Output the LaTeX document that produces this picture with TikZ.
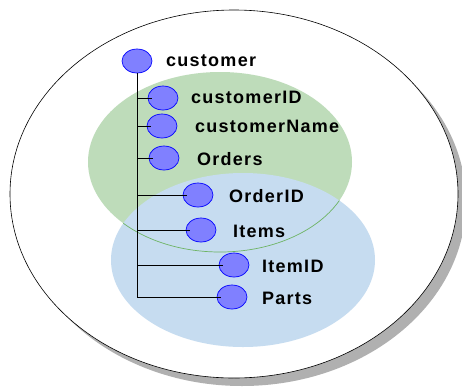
\documentclass[tikz,border=0pt]{standalone}
\usepackage{fontspec}
\setmainfont{Liberation Sans}
\usetikzlibrary{shapes.geometric}
\definecolor{grnfill}{RGB}{190,220,186}
\definecolor{grnline}{RGB}{110,180,100}
\definecolor{blufill}{RGB}{198,220,240}
\definecolor{shadowgray}{RGB}{176,176,176}
\definecolor{elemfill}{RGB}{128,128,255}

\begin{document}
\begin{tikzpicture}[x=1pt,y=-1pt,
    elem/.style={draw=blue, fill=elemfill, ellipse, minimum width=30pt, minimum height=24pt, inner sep=0pt, line width=0.7pt},
    tag/.style={anchor=west, inner sep=0pt, font=\fontsize{18}{20}\selectfont\bfseries\addfontfeatures{LetterSpace=7}},
    branch/.style={draw=black, line width=0.8pt}]
    \useasboundingbox (0,0) rectangle (462,388);
    % sets
    \fill[shadowgray] (242,202) ellipse [x radius=224pt, y radius=184pt];
    \draw[fill=white, line width=0.6pt] (234,194) ellipse [x radius=224pt, y radius=184pt];
    \fill[grnfill] (220,162) ellipse [x radius=132pt, y radius=90pt];
    \fill[blufill] (243,260) ellipse [x radius=132pt, y radius=87pt];
    \begin{scope}
        \clip (243,260) ellipse [x radius=132pt, y radius=87pt];
        \draw[grnline, line width=0.7pt] (220,162) ellipse [x radius=132pt, y radius=90pt];
    \end{scope}
    % elements
    \node[elem] (customer) at (137,61) {};
    \node[elem] (cid) at (163,98) {};
    \node[elem] (cname) at (162,126) {};
    \node[elem] (orders) at (164,158) {};
    \node[elem] (oid) at (198,195) {};
    \node[elem] (items) at (201,230) {};
    \node[elem] (iid) at (234,265) {};
    \node[elem] (parts) at (232,297) {};
    \node[tag] (customer-t) at (166,61) {customer};
    \node[tag] (cid-t) at (191,97) {customerID};
    \node[tag] (cname-t) at (195,126) {customerName};
    \node[tag] (orders-t) at (197,159) {Orders};
    \node[tag] (oid-t) at (229,196) {OrderID};
    \node[tag] (items-t) at (233,231) {Items};
    \node[tag] (iid-t) at (262,266) {ItemID};
    \node[tag] (parts-t) at (262,298) {Parts};
    % tree
    \draw[branch] (customer.south) -- (customer.south |- parts) -- ([xshift=4pt]parts.west);
    \foreach \n in {cid,cname,orders,oid,items,iid}
        \draw[branch] (customer.south |- \n) -- ([xshift=4pt]\n.west);
\end{tikzpicture}
\end{document}
